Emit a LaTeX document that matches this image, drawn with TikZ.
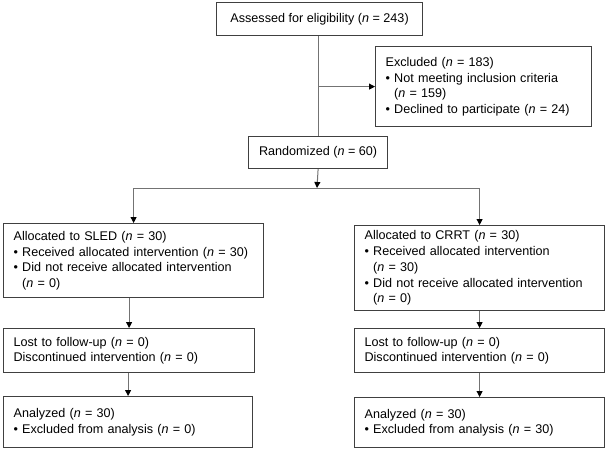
\documentclass[tikz,border=0pt]{standalone}
\usepackage{fontspec}
\setmainfont{Liberation Sans}
\usepackage{tikz}
\usetikzlibrary{arrows.meta,calc}
\definecolor{boxgray}{rgb}{0.25,0.25,0.25}
\definecolor{linegray}{rgb}{0.45,0.45,0.45}
\newcommand{\nn}[1]{(\textit{n} = #1)}
\newcommand{\bul}{\textbullet\ }
\newcommand{\hang}{\hphantom{\textbullet\ }}
\tikzset{
  box/.style={draw=boxgray, line width=1.2pt, anchor=north west, inner xsep=10pt,
    inner ysep=0pt, align=left, font=\fontsize{12.6}{15.7}\selectfont},
  link/.style={draw=linegray, line width=1pt},
  arr/.style={link, -{Triangle[length=6pt,width=6pt,color=black]}}
}

\begin{document}
\begin{tikzpicture}[x=1pt,y=-1pt]
        \useasboundingbox (0,0) rectangle (606,448);
        % Draw boxes
        \node[box, align=center, minimum width=206pt, minimum height=33pt] (assess) at (216,2)
        {Assessed for eligibility \nn{243}};
        \node[box, text width=196pt, minimum height=80pt] (excl) at (375,46)
        {Excluded \nn{183}\\ \bul Not meeting inclusion criteria\\ \hang\nn{159}\\ \bul Declined to participate \nn{24}};
        \node[box, align=center, minimum width=139pt, minimum height=32pt] (rand) at (248,136)
        {Randomized \nn{60}};
        \node[box, text width=240pt, minimum height=74pt] (sled) at (3,223)
        {Allocated to SLED \nn{30}\\ \bul Received allocated intervention \nn{30}\\ \bul Did not receive allocated intervention\\ \hang\nn{0}};
        \node[box, text width=230pt, minimum height=85pt] (crrt) at (354,225)
        {Allocated to CRRT \nn{30}\\ \bul Received allocated intervention\\ \hang\nn{30}\\ \bul Did not receive allocated intervention\\ \hang\nn{0}};
        \node[box, text width=231pt, minimum height=44pt] (lostL) at (3,328)
        {Lost to follow-up \nn{0}\\ Discontinued intervention \nn{0}};
        \node[box, text width=230pt, minimum height=44pt] (lostR) at (354,328)
        {Lost to follow-up \nn{0}\\ Discontinued intervention \nn{0}};
        \node[box, text width=229pt, minimum height=51pt] (anaL) at (3,396)
        {Analyzed \nn{30}\\ \bul Excluded from analysis \nn{0}};
        \node[box, text width=230pt, minimum height=50pt] (anaR) at (354,397)
        {Analyzed \nn{30}\\ \bul Excluded from analysis \nn{30}};
        % Connectors
        \coordinate (split) at (317,188);
        \draw[link] (rand.north |- assess.south) -- (rand.north);
        \draw[arr] (rand.north |- excl.west) -- (excl.west);
        \draw[arr] (rand.south) -- (split);
        \draw[link] (sled.north |- split) -- (crrt.north |- split);
        \draw[arr] (sled.north |- split) -- (sled.north);
        \draw[arr] (crrt.north |- split) -- (crrt.north);
        \draw[arr] (lostL.north |- sled.south) -- (lostL.north);
        \draw[arr] (lostR.north |- crrt.south) -- (lostR.north);
        \draw[arr] (anaL.north |- lostL.south) -- (anaL.north);
        \draw[arr] (anaR.north |- lostR.south) -- (anaR.north);
    \end{tikzpicture}
\end{document}
